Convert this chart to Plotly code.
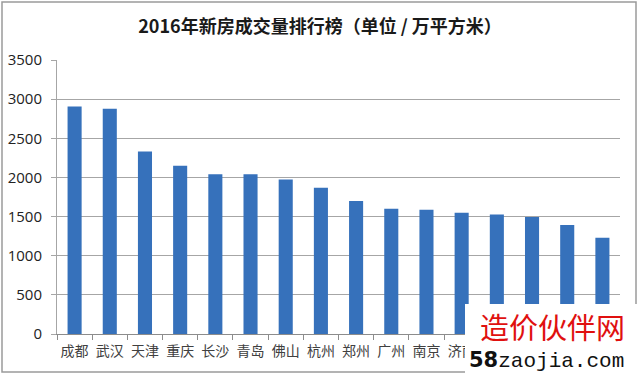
import plotly.graph_objects as go

cities = ["成都", "武汉", "天津", "重庆", "长沙", "青岛", "佛山", "杭州",
          "郑州", "广州", "南京", "济南", "合肥", "苏州", "西安", "南宁"]
volumes = [2905, 2878, 2332, 2150, 2042, 2040, 1975, 1868,
           1698, 1600, 1588, 1549, 1528, 1493, 1392, 1230]
y_ticks = [0, 500, 1000, 1500, 2000, 2500, 3000, 3500]

title_text = "2016年新房成交量排行榜（单位 / 万平方米）"
font_cjk = "Noto Sans CJK SC"

L, R, T, B = 57, 20, 60, 40
PW, PH = 640 - L - R, 374 - T - B


def px(x):
    return (x - L) / PW


def py(y):
    return (374 - B - y) / PH


fig = go.Figure(go.Bar(
    x=cities, y=volumes,
    marker=dict(color="#3671BB", line=dict(width=0)),
))

fig.update_layout(
    width=640, height=374,
    paper_bgcolor="white", plot_bgcolor="white",
    margin=dict(l=L, r=R, t=T, b=B, autoexpand=False),
    bargap=0.6,
    showlegend=False,
    title=dict(text="<b>" + title_text + "</b>", x=0.5, xanchor="center",
               y=1 - 27/374, yanchor="middle",
               font=dict(family=font_cjk, size=18, color="#1a1a1a")),
    font=dict(family=font_cjk, size=14, color="#333333"),
)
fig.update_xaxes(
    showgrid=False, showline=True, linecolor="#8c8c8c", linewidth=1,
    ticks="outside", tickson="boundaries", ticklen=5, tickcolor="#8c8c8c",
    tickfont=dict(family=font_cjk, size=14, color="#404040"),
    tickangle=0, automargin=False, ticklabelstandoff=4,
)
fig.update_yaxes(
    range=[0, 3500], tickvals=y_ticks, showgrid=True, gridcolor="#a6a6a6",
    gridwidth=1, showline=True, linecolor="#a6a6a6", linewidth=1,
    ticks="outside", ticklen=5, tickcolor="#a6a6a6",
    tickfont=dict(family="Open Sans", size=15, color="#222222"),
    zeroline=False, automargin=False, ticklabelstandoff=6,
)

# outer chart border
fig.add_shape(type="rect", xref="paper", yref="paper",
              x0=px(2), x1=px(636), y0=py(372), y1=py(2),
              line=dict(color="#9a9a9a", width=1.5), fillcolor="rgba(0,0,0,0)")

# watermark overlay
fig.add_shape(type="rect", xref="paper", yref="paper",
              x0=px(465), x1=px(641), y0=py(375), y1=py(304),
              line=dict(width=0), fillcolor="white", layer="above")
fig.add_annotation(xref="paper", yref="paper", x=px(552), y=py(326),
                   text="造价伙伴网", showarrow=False,
                   font=dict(family=font_cjk, size=29, color="#e0100f"),
                   xanchor="center", yanchor="middle")
fig.add_annotation(xref="paper", yref="paper", x=px(467), y=py(360),
                   text="<b>58</b><span style='font-family:Liberation Mono'>zaojia.com</span>",
                   showarrow=False,
                   font=dict(family="DejaVu Sans", size=21, color="#111111"),
                   xanchor="left", yanchor="middle")

fig.write_html(
    "out.html",
    config={"displayModeBar": False},
    post_script="document.body.style.margin='0';document.body.style.overflow='hidden';",
)
